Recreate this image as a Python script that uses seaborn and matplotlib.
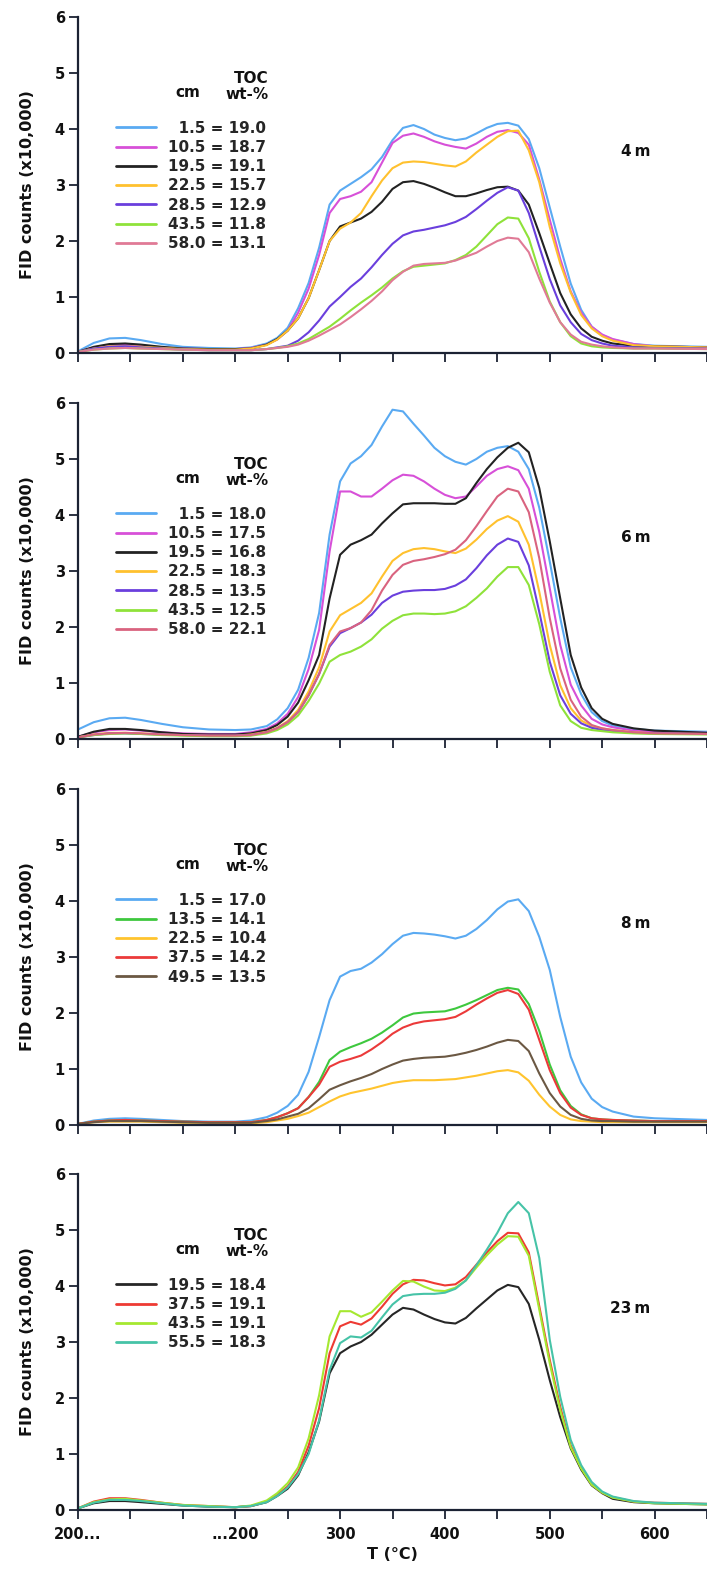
import numpy as np
import pandas as pd
import matplotlib
matplotlib.use("Agg")
import matplotlib.pyplot as plt
import seaborn as sns

# ---------------- data ----------------
# x position on the programme axis: 50..200 = isothermal hold at 200 degC, then ramp in degC
TEMP = [50, 65, 80, 95, 110, 130, 150, 175, 200,
        215, 230, 240, 250, 260, 270, 280, 290, 300, 310,
        320, 330, 340, 350, 360, 370, 380, 390, 400, 410,
        420, 430, 440, 450, 460, 470, 480, 490, 500, 510,
        520, 530, 540, 550, 560, 580, 600, 650]

X_TICKS = [50, 100, 150, 200, 250, 300, 350, 400, 450, 500, 550, 600, 650]
X_TICK_LABELS = ["200...", "", "", "...200", "", "300", "", "400", "", "500", "", "600", ""]
Y_TICKS = [0, 1, 2, 3, 4, 5, 6]

# ---- 4 m ----
P1_NAME = "4\u2009m"
P1_DEPTH = ["1.5", "10.5", "19.5", "22.5", "28.5", "43.5", "58.0"]
P1_TOC = ["19.0", "18.7", "19.1", "15.7", "12.9", "11.8", "13.1"]
P1_COLORS = ["#5aaaf2", "#d750d8", "#222222", "#ffc12e", "#6a3fdd", "#8fe23a", "#e07a96"]
P1_D1_5 = [0.03, 0.18, 0.26, 0.27, 0.23, 0.16, 0.11, 0.09, 0.08,
           0.10, 0.17, 0.27, 0.45, 0.80, 1.25, 1.88, 2.65, 2.90, 3.02,
           3.14, 3.28, 3.50, 3.80, 4.02, 4.07, 4.00, 3.90, 3.84, 3.80,
           3.83, 3.92, 4.02, 4.09, 4.11, 4.06, 3.82, 3.30, 2.60, 1.90,
           1.24, 0.77, 0.47, 0.32, 0.24, 0.16, 0.13, 0.11]
P1_D10_5 = [0.02, 0.10, 0.14, 0.15, 0.13, 0.10, 0.08, 0.07, 0.07,
            0.09, 0.15, 0.24, 0.40, 0.72, 1.15, 1.75, 2.50, 2.75, 2.80,
            2.88, 3.05, 3.40, 3.75, 3.88, 3.92, 3.86, 3.78, 3.72, 3.68,
            3.65, 3.74, 3.86, 3.95, 3.98, 3.93, 3.72, 3.10, 2.38, 1.68,
            1.10, 0.72, 0.47, 0.33, 0.25, 0.16, 0.12, 0.10]
P1_D19_5 = [0.02, 0.11, 0.16, 0.17, 0.15, 0.11, 0.08, 0.07, 0.07,
            0.08, 0.15, 0.25, 0.40, 0.62, 0.98, 1.48, 2.00, 2.26, 2.33,
            2.40, 2.52, 2.70, 2.93, 3.05, 3.07, 3.02, 2.95, 2.87, 2.80,
            2.80, 2.85, 2.91, 2.96, 2.97, 2.90, 2.65, 2.14, 1.60, 1.07,
            0.69, 0.44, 0.29, 0.22, 0.17, 0.13, 0.12, 0.10]
P1_D22_5 = [0.02, 0.08, 0.12, 0.12, 0.11, 0.09, 0.07, 0.06, 0.06,
            0.08, 0.14, 0.24, 0.40, 0.62, 0.98, 1.48, 2.00, 2.22, 2.33,
            2.50, 2.80, 3.08, 3.30, 3.40, 3.42, 3.41, 3.38, 3.35, 3.33,
            3.42, 3.58, 3.72, 3.86, 3.96, 3.97, 3.62, 3.05, 2.25, 1.60,
            1.08, 0.68, 0.44, 0.30, 0.22, 0.14, 0.12, 0.10]
P1_D28_5 = [0.02, 0.08, 0.11, 0.12, 0.10, 0.08, 0.06, 0.05, 0.05,
            0.05, 0.07, 0.10, 0.13, 0.22, 0.37, 0.58, 0.83, 1.00, 1.18,
            1.33, 1.53, 1.75, 1.95, 2.10, 2.17, 2.20, 2.24, 2.28, 2.34,
            2.43, 2.57, 2.72, 2.86, 2.96, 2.90, 2.50, 1.90, 1.32, 0.85,
            0.55, 0.34, 0.23, 0.17, 0.13, 0.10, 0.09, 0.08]
P1_D43_5 = [0.02, 0.06, 0.08, 0.09, 0.08, 0.07, 0.06, 0.05, 0.05,
            0.05, 0.07, 0.09, 0.12, 0.17, 0.25, 0.36, 0.47, 0.61, 0.76,
            0.90, 1.03, 1.17, 1.33, 1.46, 1.54, 1.56, 1.58, 1.60, 1.66,
            1.75, 1.90, 2.10, 2.30, 2.42, 2.40, 2.05, 1.45, 0.92, 0.55,
            0.30, 0.17, 0.12, 0.10, 0.09, 0.08, 0.08, 0.07]
P1_D58_0 = [0.02, 0.06, 0.08, 0.09, 0.08, 0.07, 0.06, 0.05, 0.05,
            0.05, 0.07, 0.09, 0.11, 0.15, 0.22, 0.31, 0.41, 0.51, 0.64,
            0.78, 0.93, 1.10, 1.30, 1.45, 1.56, 1.59, 1.60, 1.61, 1.65,
            1.72, 1.79, 1.90, 2.00, 2.06, 2.04, 1.80, 1.33, 0.90, 0.55,
            0.33, 0.20, 0.15, 0.12, 0.10, 0.08, 0.08, 0.07]
P1_SERIES = [P1_D1_5, P1_D10_5, P1_D19_5, P1_D22_5, P1_D28_5, P1_D43_5, P1_D58_0]

# ---- 6 m ----
P2_NAME = "6\u2009m"
P2_DEPTH = ["1.5", "10.5", "19.5", "22.5", "28.5", "43.5", "58.0"]
P2_TOC = ["18.0", "17.5", "16.8", "18.3", "13.5", "12.5", "22.1"]
P2_COLORS = ["#5aaaf2", "#d750d8", "#222222", "#ffc12e", "#6a3fdd", "#8fe23a", "#d9637f"]
P2_D1_5 = [0.17, 0.30, 0.37, 0.38, 0.34, 0.27, 0.21, 0.17, 0.16,
           0.17, 0.23, 0.35, 0.55, 0.88, 1.45, 2.25, 3.65, 4.60, 4.92,
           5.05, 5.25, 5.58, 5.88, 5.85, 5.63, 5.42, 5.20, 5.05, 4.95,
           4.90, 5.00, 5.13, 5.20, 5.23, 5.13, 4.82, 4.13, 3.17, 2.16,
           1.28, 0.80, 0.48, 0.32, 0.24, 0.18, 0.15, 0.13]
P2_D10_5 = [0.04, 0.12, 0.16, 0.17, 0.15, 0.12, 0.10, 0.09, 0.09,
            0.12, 0.18, 0.28, 0.45, 0.75, 1.25, 1.95, 3.35, 4.42, 4.42,
            4.33, 4.33, 4.47, 4.62, 4.72, 4.70, 4.60, 4.47, 4.36, 4.30,
            4.33, 4.51, 4.70, 4.82, 4.87, 4.80, 4.47, 3.70, 2.69, 1.68,
            0.97, 0.60, 0.36, 0.26, 0.21, 0.15, 0.13, 0.11]
P2_D19_5 = [0.04, 0.13, 0.18, 0.18, 0.16, 0.12, 0.09, 0.08, 0.08,
            0.10, 0.16, 0.25, 0.40, 0.65, 1.05, 1.50, 2.51, 3.29, 3.47,
            3.55, 3.65, 3.85, 4.03, 4.19, 4.21, 4.21, 4.21, 4.20, 4.20,
            4.30, 4.57, 4.82, 5.03, 5.20, 5.29, 5.12, 4.48, 3.53, 2.51,
            1.50, 0.92, 0.55, 0.36, 0.27, 0.19, 0.15, 0.11]
P2_D22_5 = [0.03, 0.08, 0.11, 0.11, 0.10, 0.08, 0.07, 0.06, 0.06,
            0.08, 0.13, 0.20, 0.32, 0.52, 0.85, 1.28, 1.92, 2.21, 2.32,
            2.43, 2.60, 2.90, 3.18, 3.32, 3.39, 3.41, 3.39, 3.35, 3.32,
            3.40, 3.56, 3.75, 3.90, 3.98, 3.88, 3.47, 2.63, 1.68, 0.96,
            0.55, 0.33, 0.23, 0.19, 0.16, 0.12, 0.10, 0.09]
P2_D28_5 = [0.03, 0.07, 0.10, 0.10, 0.09, 0.08, 0.07, 0.06, 0.06,
            0.07, 0.12, 0.19, 0.30, 0.48, 0.78, 1.16, 1.65, 1.89, 1.98,
            2.08, 2.22, 2.43, 2.56, 2.63, 2.65, 2.66, 2.66, 2.68, 2.74,
            2.85, 3.05, 3.28, 3.47, 3.58, 3.52, 3.10, 2.27, 1.38, 0.78,
            0.45, 0.28, 0.20, 0.16, 0.14, 0.11, 0.10, 0.09]
P2_D43_5 = [0.03, 0.07, 0.09, 0.10, 0.09, 0.07, 0.06, 0.05, 0.05,
            0.06, 0.10, 0.16, 0.26, 0.42, 0.68, 0.99, 1.38, 1.50, 1.56,
            1.65, 1.78, 1.97, 2.11, 2.21, 2.24, 2.24, 2.23, 2.24, 2.28,
            2.37, 2.52, 2.69, 2.90, 3.07, 3.07, 2.75, 2.05, 1.20, 0.60,
            0.32, 0.20, 0.16, 0.14, 0.12, 0.10, 0.09, 0.08]
P2_D58_0 = [0.03, 0.08, 0.10, 0.11, 0.10, 0.08, 0.07, 0.06, 0.06,
            0.07, 0.12, 0.19, 0.30, 0.48, 0.78, 1.16, 1.68, 1.92, 1.98,
            2.08, 2.30, 2.65, 2.93, 3.11, 3.18, 3.21, 3.25, 3.30, 3.38,
            3.55, 3.80, 4.07, 4.33, 4.47, 4.42, 4.05, 3.23, 2.16, 1.26,
            0.70, 0.40, 0.25, 0.19, 0.16, 0.12, 0.10, 0.09]
P2_SERIES = [P2_D1_5, P2_D10_5, P2_D19_5, P2_D22_5, P2_D28_5, P2_D43_5, P2_D58_0]

# ---- 8 m ----
P3_NAME = "8\u2009m"
P3_DEPTH = ["1.5", "13.5", "22.5", "37.5", "49.5"]
P3_TOC = ["17.0", "14.1", "10.4", "14.2", "13.5"]
P3_COLORS = ["#5aaaf2", "#3ec83e", "#ffc42e", "#eb3a3a", "#6b5843"]
P3_D1_5 = [0.02, 0.08, 0.11, 0.12, 0.11, 0.09, 0.07, 0.06, 0.06,
           0.08, 0.14, 0.22, 0.34, 0.54, 0.95, 1.57, 2.23, 2.65, 2.75,
           2.79, 2.90, 3.05, 3.23, 3.38, 3.43, 3.42, 3.40, 3.37, 3.33,
           3.38, 3.50, 3.66, 3.85, 3.99, 4.03, 3.82, 3.36, 2.77, 1.93,
           1.22, 0.76, 0.47, 0.32, 0.24, 0.15, 0.12, 0.09]
P3_D13_5 = [0.02, 0.06, 0.08, 0.09, 0.08, 0.07, 0.06, 0.05, 0.05,
            0.05, 0.09, 0.14, 0.21, 0.30, 0.50, 0.77, 1.16, 1.31, 1.39,
            1.46, 1.54, 1.65, 1.78, 1.92, 1.99, 2.01, 2.02, 2.03, 2.08,
            2.15, 2.23, 2.32, 2.41, 2.45, 2.42, 2.16, 1.68, 1.08, 0.62,
            0.34, 0.19, 0.12, 0.10, 0.09, 0.08, 0.07, 0.07]
P3_D22_5 = [0.02, 0.05, 0.06, 0.06, 0.06, 0.05, 0.04, 0.04, 0.04,
            0.03, 0.05, 0.08, 0.11, 0.16, 0.22, 0.32, 0.42, 0.51, 0.57,
            0.61, 0.65, 0.70, 0.75, 0.78, 0.80, 0.80, 0.80, 0.81, 0.82,
            0.85, 0.88, 0.92, 0.96, 0.98, 0.94, 0.79, 0.54, 0.33, 0.18,
            0.10, 0.07, 0.06, 0.05, 0.05, 0.05, 0.05, 0.05]
P3_D37_5 = [0.02, 0.06, 0.08, 0.09, 0.08, 0.07, 0.06, 0.05, 0.05,
            0.05, 0.09, 0.14, 0.21, 0.30, 0.50, 0.72, 1.04, 1.13, 1.18,
            1.24, 1.35, 1.48, 1.63, 1.74, 1.81, 1.85, 1.87, 1.89, 1.93,
            2.03, 2.15, 2.26, 2.36, 2.41, 2.34, 2.06, 1.52, 0.98, 0.57,
            0.31, 0.18, 0.12, 0.10, 0.09, 0.08, 0.07, 0.07]
P3_D49_5 = [0.02, 0.05, 0.07, 0.07, 0.07, 0.06, 0.05, 0.04, 0.04,
            0.04, 0.07, 0.10, 0.15, 0.20, 0.30, 0.46, 0.63, 0.71, 0.78,
            0.84, 0.91, 1.00, 1.08, 1.15, 1.18, 1.20, 1.21, 1.22, 1.25,
            1.29, 1.34, 1.40, 1.47, 1.52, 1.50, 1.32, 0.92, 0.57, 0.33,
            0.18, 0.11, 0.08, 0.07, 0.07, 0.06, 0.06, 0.06]
P3_SERIES = [P3_D1_5, P3_D13_5, P3_D22_5, P3_D37_5, P3_D49_5]

# ---- 23 m ----
P4_NAME = "23\u2009m"
P4_DEPTH = ["19.5", "37.5", "43.5", "55.5"]
P4_TOC = ["18.4", "19.1", "19.1", "18.3"]
P4_COLORS = ["#262626", "#ee3a33", "#a5e830", "#46c3a7"]
P4_D19_5 = [0.03, 0.12, 0.16, 0.16, 0.14, 0.11, 0.08, 0.06, 0.05,
            0.07, 0.14, 0.25, 0.38, 0.62, 1.03, 1.58, 2.44, 2.80, 2.92,
            3.00, 3.13, 3.31, 3.49, 3.61, 3.58, 3.49, 3.41, 3.35, 3.33,
            3.43, 3.60, 3.76, 3.92, 4.02, 3.98, 3.68, 3.04, 2.32, 1.66,
            1.10, 0.72, 0.44, 0.30, 0.20, 0.14, 0.12, 0.10]
P4_D37_5 = [0.03, 0.15, 0.21, 0.21, 0.18, 0.13, 0.09, 0.07, 0.05,
            0.07, 0.15, 0.27, 0.42, 0.68, 1.15, 1.82, 2.80, 3.28, 3.36,
            3.31, 3.42, 3.63, 3.86, 4.03, 4.11, 4.10, 4.05, 4.01, 4.03,
            4.16, 4.38, 4.60, 4.80, 4.95, 4.94, 4.60, 3.64, 2.68, 1.84,
            1.15, 0.76, 0.46, 0.31, 0.23, 0.15, 0.13, 0.11]
P4_D43_5 = [0.03, 0.14, 0.19, 0.20, 0.17, 0.13, 0.09, 0.07, 0.05,
            0.08, 0.17, 0.30, 0.48, 0.76, 1.28, 2.05, 3.10, 3.55, 3.55,
            3.45, 3.53, 3.72, 3.92, 4.09, 4.08, 3.99, 3.92, 3.91, 3.97,
            4.10, 4.33, 4.55, 4.74, 4.89, 4.88, 4.54, 3.58, 2.62, 1.78,
            1.12, 0.74, 0.45, 0.31, 0.22, 0.15, 0.12, 0.10]
P4_D55_5 = [0.03, 0.13, 0.18, 0.18, 0.16, 0.12, 0.08, 0.06, 0.05,
            0.07, 0.14, 0.25, 0.40, 0.64, 1.00, 1.60, 2.50, 2.98, 3.10,
            3.08, 3.20, 3.44, 3.67, 3.82, 3.85, 3.86, 3.86, 3.88, 3.95,
            4.10, 4.37, 4.65, 4.95, 5.30, 5.50, 5.30, 4.50, 3.04, 2.02,
            1.25, 0.80, 0.50, 0.33, 0.24, 0.16, 0.13, 0.11]
P4_SERIES = [P4_D19_5, P4_D37_5, P4_D43_5, P4_D55_5]

PANELS = [
    (P1_NAME, P1_DEPTH, P1_TOC, P1_COLORS, P1_SERIES),
    (P2_NAME, P2_DEPTH, P2_TOC, P2_COLORS, P2_SERIES),
    (P3_NAME, P3_DEPTH, P3_TOC, P3_COLORS, P3_SERIES),
    (P4_NAME, P4_DEPTH, P4_TOC, P4_COLORS, P4_SERIES),
]

# ---------------- style ----------------
sns.set_theme(style="ticks")
plt.rcParams["font.family"] = ["DejaVu Sans"]
plt.rcParams["font.weight"] = "bold"
INK = "#1b2233"

W, H = 707, 1571
fig = plt.figure(figsize=(W / 100, H / 100), dpi=100)
fig.patch.set_facecolor("white")

ax_left = 78 / W
ax_width = (W - 78) / W
ax_height = 336 / H
bottom_px = [353, 739, 1125, 1510]

for i, (name, depths, tocs, colors, series) in enumerate(PANELS):
    ax = fig.add_axes([ax_left, 1 - bottom_px[i] / H, ax_width, ax_height])
    ax.set_facecolor("white")
    labels = [d.rjust(4, "\u2007") + " = " + t for d, t in zip(depths, tocs)]
    frames = [pd.DataFrame({"T": TEMP, "FID": vals, "sample": lab})
              for vals, lab in zip(series, labels)]
    df = pd.concat(frames, ignore_index=True)
    sns.lineplot(data=df, x="T", y="FID", hue="sample", hue_order=labels,
                 palette=dict(zip(labels, colors)), estimator=None, sort=False,
                 linewidth=1.5, ax=ax, legend=True)

    handles, labs = ax.get_legend_handles_labels()
    leg = ax.legend(handles, labs, loc="upper left",
                    bbox_to_anchor=(86.7, 4.15), bbox_transform=ax.transData,
                    frameon=False, borderpad=0, borderaxespad=0,
                    handlelength=2.6, handletextpad=0.8, labelspacing=0.28,
                    prop={"weight": "bold", "size": 11})
    for ln, c in zip(leg.get_lines(), colors):
        ln.set_linewidth(2.0)
        ln.set_color(c)

    ax.text(155, 4.66, "cm", ha="center", va="center", fontsize=11, fontweight="bold", color="#111111")
    ax.text(231.5, 4.76, "TOC\nwt-%", ha="right", va="center", ma="right", linespacing=1.05,
            fontsize=11, fontweight="bold", color="#111111")
    ax.text(596, 3.6, name, ha="right", va="center", fontsize=11, fontweight="bold", color="#111111")

    ax.set_xlim(50, 650)
    ax.set_ylim(0, 6)
    ax.set_xticks(X_TICKS)
    ax.set_yticks(Y_TICKS)
    ax.set_yticklabels([str(v) for v in Y_TICKS])
    if i == 3:
        ax.set_xticklabels(X_TICK_LABELS)
        ax.set_xlabel("T (\u00b0C)", fontsize=11.5, fontweight="bold", color="#111111", labelpad=3)
    else:
        ax.set_xticklabels([])
        ax.set_xlabel("")
    ax.set_ylabel("FID counts (x10,000)", fontsize=11.5, fontweight="bold", color="#111111", labelpad=14)
    ax.tick_params(axis="both", direction="out", length=6.5, width=1.3, color=INK,
                   labelsize=10.5, labelcolor="#111111", pad=3)
    ax.tick_params(axis="x", pad=6)
    for s in ["top", "right"]:
        ax.spines[s].set_visible(False)
    for s in ["left", "bottom"]:
        ax.spines[s].set_color(INK)
        ax.spines[s].set_linewidth(1.6)
    for lbl in ax.get_xticklabels() + ax.get_yticklabels():
        lbl.set_fontweight("bold")

fig.savefig("out.png", dpi=100, facecolor="white")
